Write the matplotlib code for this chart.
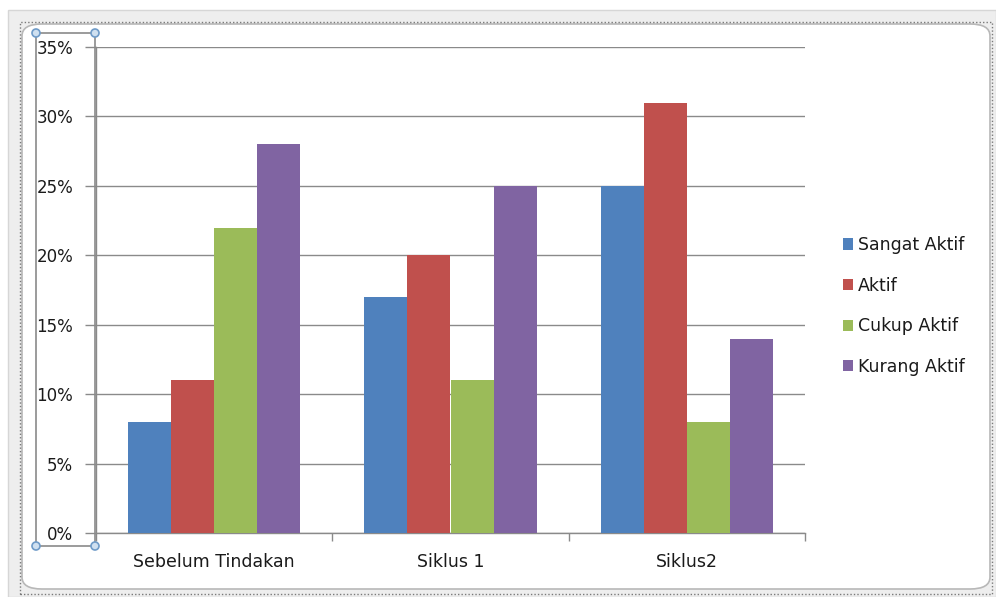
import matplotlib
matplotlib.use("Agg")
import matplotlib.pyplot as plt
from matplotlib.patches import FancyBboxPatch, Rectangle, Ellipse
from matplotlib.ticker import FixedLocator, FuncFormatter
import numpy as np

categories = ["Sebelum Tindakan", "Siklus 1", "Siklus2"]
series_names = ["Sangat Aktif", "Aktif", "Cukup Aktif", "Kurang Aktif"]
sangat_aktif = [8, 17, 25]
aktif = [11, 20, 31]
cukup_aktif = [22, 11, 8]
kurang_aktif = [28, 25, 14]
y_ticks = [0, 5, 10, 15, 20, 25, 30, 35]

series = [sangat_aktif, aktif, cukup_aktif, kurang_aktif]
colors = ["#4F81BD", "#C0504D", "#9BBB59", "#8064A2"]

plt.rcParams['font.family'] = ['DejaVu Sans']

W, H = 996, 597
fig = plt.figure(figsize=(W / 100, H / 100), dpi=100)
fig.patch.set_facecolor("white")

def fx(px):
    return px / W

def fy(py):
    return 1 - py / H

# window frame decorations (behind axes)
fig.patches.append(Rectangle((fx(8), 0), fx(996 - 8), fy(10), transform=fig.transFigure,
                             facecolor="#eeeeee", edgecolor="#d6d6d6", lw=1.0, zorder=-10))
fig.patches.append(FancyBboxPatch((fx(22), fy(589)), fx(990 - 22), fy(24) - fy(589),
                                  boxstyle="round,pad=0,rounding_size=0.02",
                                  transform=fig.transFigure, facecolor="white",
                                  edgecolor="#b8b8b8", lw=1.2, zorder=-9))
fig.patches.append(Rectangle((fx(20), fy(594)), fx(992 - 20), fy(22) - fy(594), transform=fig.transFigure,
                             facecolor="none", edgecolor="#7a7a7a", lw=1.0, ls=(0, (1, 1.5)), zorder=-8))

ax = fig.add_axes([fx(96), fy(533), fx(805) - fx(96), fy(47) - fy(533)])
ax.set_facecolor("none")
ax.set_zorder(1)

n = len(series)
group_w = 0.73
bw = group_w / n
x = np.arange(len(categories))
for i, (vals, name, c) in enumerate(zip(series, series_names, colors)):
    ax.bar(x - group_w / 2 + bw * (i + 0.5), vals, width=bw, color=c, label=name, zorder=3)

ax.set_xlim(-0.5, len(categories) - 0.5)
ax.set_ylim(0, 35)
ax.set_yticks(y_ticks)
ax.yaxis.set_major_formatter(FuncFormatter(lambda v, p: f"{int(v)}%"))
ax.yaxis.grid(True, color="#8a8a8a", lw=1.0, zorder=1)
ax.set_axisbelow(True)

ax.set_xticks(x)
ax.set_xticklabels(categories, fontsize=12.5, color="#1a1a1a")
ax.xaxis.set_minor_locator(FixedLocator([-0.5, 0.5, 1.5, 2.5]))
ax.tick_params(axis="x", which="major", length=0, pad=14.5)
ax.tick_params(axis="x", which="minor", length=6, color="#8a8a8a", width=1)
ax.tick_params(axis="y", length=8, color="#8a8a8a", width=1, pad=8.5, labelsize=12, labelcolor="#1a1a1a")

for s in ["top", "right"]:
    ax.spines[s].set_visible(False)
ax.spines["left"].set_color("#8a8a8a")
ax.spines["bottom"].set_color("#8a8a8a")
ax.spines["left"].set_linewidth(1.0)
ax.spines["bottom"].set_linewidth(1.0)

# selection box around y-axis labels
fig.patches.append(Rectangle((fx(36), fy(546)), fx(95 - 36), fy(33) - fy(546), transform=fig.transFigure,
                             facecolor="none", edgecolor="#8a8a8a", lw=1.2, zorder=5))
for (px, py) in [(36, 33), (95, 33), (36, 546), (95, 546)]:
    fig.patches.append(Ellipse((fx(px), fy(py)), fx(8), 8 / H, transform=fig.transFigure,
                               facecolor="#cfe0f0", edgecolor="#6f9bc8", lw=1.2, zorder=6))

leg = ax.legend(loc="center left", bbox_to_anchor=(fx(827), fy(306)), bbox_transform=fig.transFigure,
                frameon=False, fontsize=12.5, handlelength=0.62, handleheight=0.62,
                handletextpad=0.25, labelspacing=1.3)
for t in leg.get_texts():
    t.set_color("#1a1a1a")

fig.savefig("out.png", dpi=100)
